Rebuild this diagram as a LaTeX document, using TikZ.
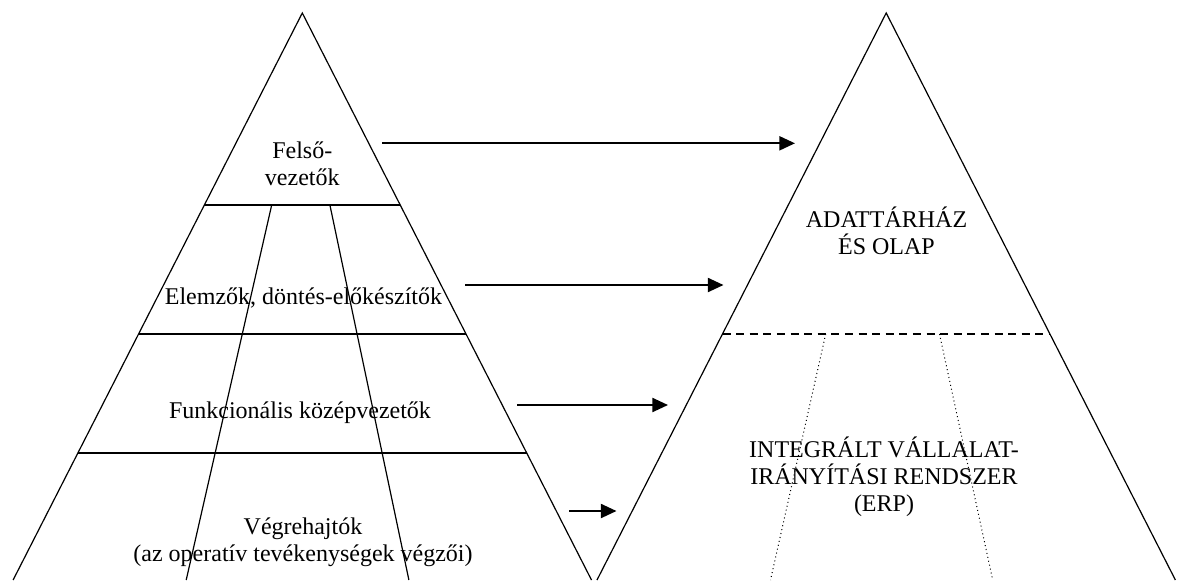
\documentclass[tikz,border=0pt]{standalone}
\usepackage{fontspec}
\setmainfont{Liberation Serif}
\usetikzlibrary{arrows.meta}
\begin{document}
\begin{tikzpicture}[x=0.5pt,y=-0.5pt,
  side/.style={line width=0.6pt},
  tier/.style={line width=1pt},
  split/.style={line width=0.6pt},
  dashsplit/.style={line width=0.8pt,dash pattern=on 4pt off 2.8pt},
  dotsplit/.style={line width=0.5pt,dash pattern=on 0.5pt off 1.5pt},
  flow/.style={line width=1pt,-{Triangle[length=7.8pt,width=7pt]}},
  lbl/.style={font=\fontsize{12}{13.5}\selectfont,align=center,inner sep=0pt,anchor=base}]
\useasboundingbox (0,0) rectangle (1184,580);

% management pyramid
\draw[side] (13.1,580) -- (302.3,13) -- (591.5,580);
\draw[tier] (204.4,205) -- (400.2,205);
\draw[tier] (138.6,334) -- (466.0,334);
\draw[tier] (77.9,453) -- (526.7,453);
\draw[split] (271.7,205) -- (186.2,580);
\draw[split] (329.9,205) -- (408.9,580);

% systems pyramid
\draw[side] (597.0,580) -- (886.2,13) -- (1175.4,580);
\draw[dashsplit] (722.5,334) -- (1049.9,334);
\draw[dotsplit] (825.7,334) -- (770.5,580);
\draw[dotsplit] (939.5,334) -- (992.7,580);

% labels of the management levels (base = baseline of the last line)
\node[lbl] (felso) at (302.3,185) {Felső-\\vezetők};
\node[lbl] (elemzo) at (303.5,304) {Elemzők, döntés-előkészítők};
\node[lbl] (funkc) at (300,418) {Funkcionális középvezetők};
\node[lbl] (vegre) at (303,561.7) {Végrehajtók\\(az operatív tevékenységek végzői)};

% labels of the systems
\node[lbl] (dwh) at (886.5,254) {ADATTÁRHÁZ\\ÉS OLAP};
\node[lbl] (erp) at (884,511.7) {INTEGRÁLT VÁLLALAT-\\IRÁNYÍTÁSI RENDSZER\\(ERP)};

% arrow ends
\coordinate (a1s) at (382,143.3);   \coordinate (a1e) at (795,143.3);
\coordinate (a2s) at (465,285);     \coordinate (a2e) at (723.5,285);
\coordinate (a3s) at (517.4,405);   \coordinate (a3e) at (668,405);
\coordinate (a4s) at (569,511);     \coordinate (a4e) at (616.5,511);

\draw[flow] (a1s) -- (a1e);
\draw[flow] (a2s) -- (a2e);
\draw[flow] (a3s) -- (a3e);
\draw[flow] (a4s) -- (a4e);
\end{tikzpicture}
\end{document}
